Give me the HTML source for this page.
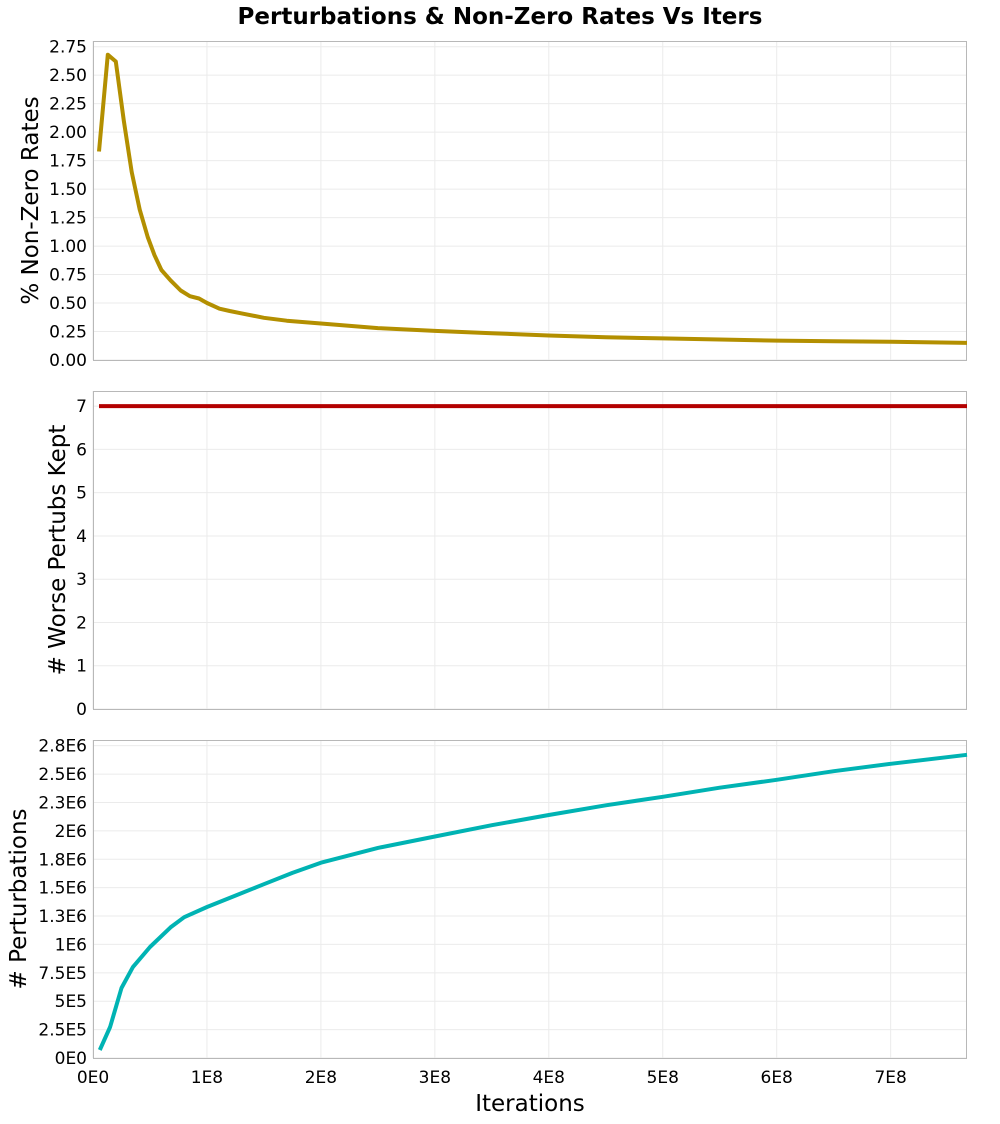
<!DOCTYPE html>
<html><head><meta charset="utf-8"><style>
body{margin:0;background:#fff;font-family:"DejaVu Sans","Liberation Sans",sans-serif}
svg text{font-family:"DejaVu Sans","Liberation Sans",sans-serif}
</style></head><body>
<svg id="c" width="1000" height="1120" xmlns="http://www.w3.org/2000/svg">
<text x="500" y="24" text-anchor="middle" font-size="23" font-weight="bold">Perturbations &amp; Non-Zero Rates Vs Iters</text>
</svg>
<script>
const xTicks=[0,1e8,2e8,3e8,4e8,5e8,6e8,7e8];
const xTickLabels=["0E0","1E8","2E8","3E8","4E8","5E8","6E8","7E8"];
const rateX=[0.053e8,0.13e8,0.2e8,0.27e8,0.34e8,0.41e8,0.48e8,0.54e8,0.6e8,0.68e8,0.77e8,0.85e8,0.93e8,1.0e8,1.11e8,1.2e8,1.3e8,1.5e8,1.7e8,2e8,2.5e8,3e8,3.5e8,4e8,4.5e8,5e8,5.5e8,6e8,6.5e8,7e8,7.67e8];
const rateY=[1.83,2.68,2.62,2.1,1.65,1.32,1.08,0.92,0.79,0.70,0.61,0.56,0.54,0.50,0.45,0.43,0.41,0.37,0.345,0.32,0.28,0.255,0.235,0.215,0.2,0.19,0.18,0.17,0.165,0.16,0.15];
const rateTicks=[0,0.25,0.5,0.75,1,1.25,1.5,1.75,2,2.25,2.5,2.75];
const rateLabels=["0.00","0.25","0.50","0.75","1.00","1.25","1.50","1.75","2.00","2.25","2.50","2.75"];
const keptX=[0.053e8,7.67e8];
const keptY=[7,7];
const keptTicks=[0,1,2,3,4,5,6,7];
const keptLabels=["0","1","2","3","4","5","6","7"];
const pertX=[0.06e8,0.15e8,0.25e8,0.35e8,0.5e8,0.68e8,0.8e8,1.0e8,1.25e8,1.5e8,1.75e8,2e8,2.5e8,3e8,3.5e8,4e8,4.5e8,5e8,5.5e8,6e8,6.5e8,7e8,7.67e8];
const pertY=[70000,273000,616000,800000,977000,1150000,1240000,1330000,1430000,1530000,1630000,1720000,1850000,1950000,2050000,2140000,2225000,2300000,2380000,2450000,2525000,2590000,2670000];
const pertTicks=[0,250000,500000,750000,1000000,1250000,1500000,1750000,2000000,2250000,2500000,2750000];
const pertLabels=["0E0","2.5E5","5E5","7.5E5","1E6","1.3E6","1.5E6","1.8E6","2E6","2.3E6","2.5E6","2.8E6"];

const svg=document.getElementById('c');
const NS="http://www.w3.org/2000/svg";
const L=93,R=967,XMAX=7.67e8;
const sx=v=>L+(v/XMAX)*(R-L);
function mk(t,a){const e=document.createElementNS(NS,t);for(const k in a)e.setAttribute(k,a[k]);svg.appendChild(e);return e;}
function panel(name,top,bot,ymax,ticks,labels,xs,ys,color,title,titleX,showX){
  const sy=v=>bot-(v/ymax)*(bot-top);
  ticks.forEach((t,i)=>{
    const g=mk('line',{x1:L,x2:R,y1:sy(t),y2:sy(t),stroke:'#ebebeb','stroke-width':1});
    
    
    const tx=mk('text',{x:L-6,y:sy(t)+6,'text-anchor':'end','font-size':17,fill:'#000'});
    tx.textContent=labels[i];
    
    
  });
  xTicks.forEach((t,i)=>{
    const g=mk('line',{x1:sx(t),x2:sx(t),y1:top,y2:bot,stroke:'#ebebeb','stroke-width':1});
    
    
    if(showX){
      const tx=mk('text',{x:sx(t),y:bot+25,'text-anchor':'middle','font-size':17,fill:'#000'});
      tx.textContent=xTickLabels[i];
      
      
    }
  });
  const fr=mk('rect',{x:L+0.5,y:top+0.5,width:R-L-1,height:bot-top,fill:'none',stroke:'#b8b8b8','stroke-width':1});
  
  
  const pts=xs.map((x,i)=>sx(x).toFixed(1)+','+sy(ys[i]).toFixed(1)).join(' ');
  const pl=mk('polyline',{points:pts,fill:'none',stroke:color,'stroke-width':4,'stroke-linejoin':'round'});
  
  
  const cy=(top+bot)/2;
  const tt=mk('text',{x:0,y:0,'text-anchor':'middle','font-size':23,fill:'#000',transform:`translate(${titleX},${cy}) rotate(-90)`});
  tt.textContent=title;
  
  
}
panel('rate',41,360,2.8,rateTicks,rateLabels,rateX,rateY,'#b38f00','% Non-Zero Rates',38,false);
panel('kept',391,709,7.35,keptTicks,keptLabels,keptX,keptY,'#b30000','# Worse Pertubs Kept',65,false);
panel('pert',740,1058,2.8e6,pertTicks,pertLabels,pertX,pertY,'#00b3b3','# Perturbations',26,true);
const xt=mk('text',{x:530,y:1111,'text-anchor':'middle','font-size':23,fill:'#000'});
xt.textContent='Iterations';


</script>
</body></html>
